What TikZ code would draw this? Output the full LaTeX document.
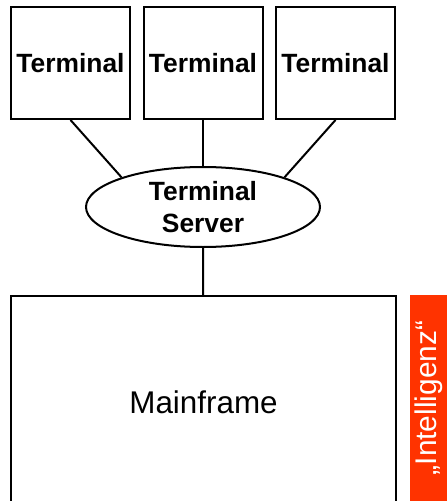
\documentclass[tikz,border=0pt]{standalone}
\usepackage{fontspec}
\setmainfont{Liberation Sans}
\usetikzlibrary{shapes,positioning}
\definecolor{signalred}{RGB}{255,51,0}

\begin{document}
\begin{tikzpicture}
  [x=1bp,y=-1bp,line width=2bp,
    every node/.style={draw,font=\fontsize{26.5}{32}\selectfont\bfseries,inner sep=0pt},
    term/.style={rectangle,minimum width=119bp,minimum height=112bp},
    srv/.style={ellipse,minimum width=234bp,minimum height=80bp,align=center}]
  \clip (0,0) rectangle (447,501);
  \node[srv] (n0) at (203,207) {Terminal\\Server};
  \node[term] (n1) at (70.5,63) {Terminal};
  \node[term] (n2) at (203,63) {Terminal};
  \node[term] (n3) at (335.5,63) {Terminal};
  \node[rectangle,minimum width=385bp,minimum height=212bp,font=\fontsize{31.5}{37}\selectfont] (n4) at (203.5,402) {Mainframe};
  \node[rectangle,draw=none,fill=signalred,text=white,rotate=90,minimum width=206bp,minimum height=37bp,font=\fontsize{30}{36}\selectfont] (n5) at (428.5,398) {„Intelligenz“};
  \foreach \from/\to in {n1.south/n0.160,n2/n0,n3.south/n0.20,n0/n4}
  \draw (\from) -- (\to);
\end{tikzpicture}
\end{document}
